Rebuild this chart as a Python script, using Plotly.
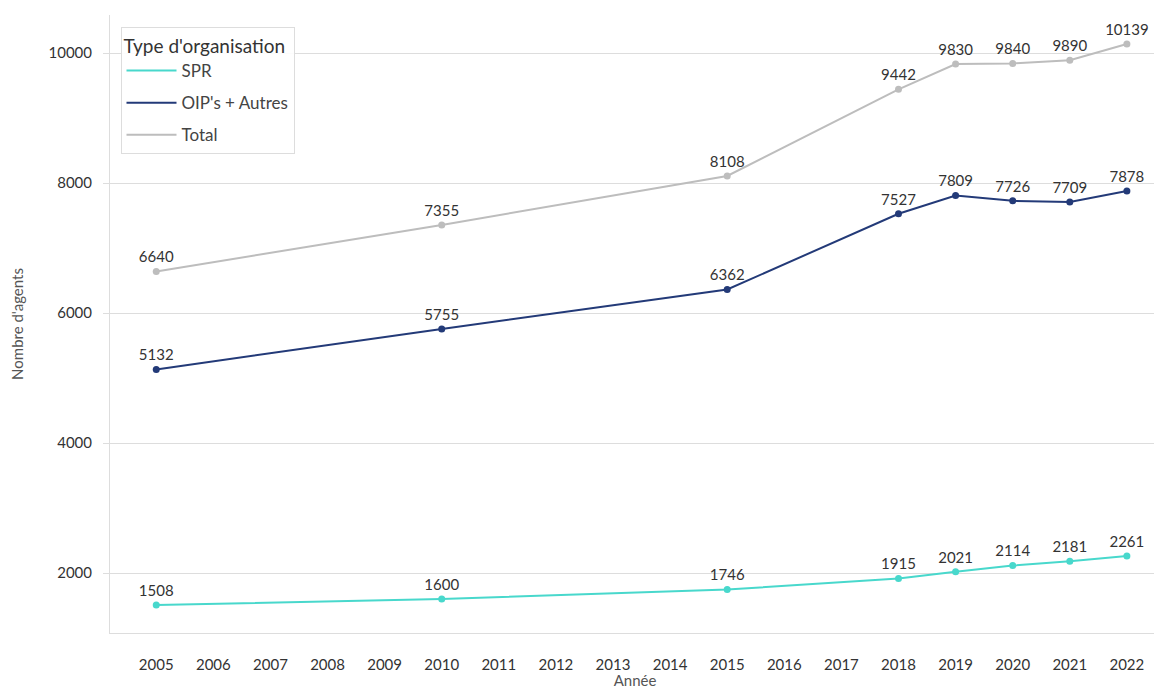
import plotly.graph_objects as go

# Data
years = [2005, 2010, 2015, 2018, 2019, 2020, 2021, 2022]
spr = [1508, 1600, 1746, 1915, 2021, 2114, 2181, 2261]
oip_autres = [5132, 5755, 6362, 7527, 7809, 7726, 7709, 7878]
total = [6640, 7355, 8108, 9442, 9830, 9840, 9890, 10139]

all_years = list(range(2005, 2023))

series = [
    ("SPR", spr, "#48d8cc"),
    ("OIP's + Autres", oip_autres, "#233a78"),
    ("Total", total, "#bdbdbd"),
]

FONT = "Lato, 'Open Sans', sans-serif"

fig = go.Figure()
for name, values, color in series:
    # points, lines and value labels
    fig.add_trace(go.Scatter(
        x=years,
        y=values,
        name=name,
        mode="lines+markers+text",
        line=dict(color=color, width=2),
        marker=dict(color=color, size=7),
        text=[str(v) for v in values],
        textposition="top center",
        textfont=dict(size=15, color="#333333", family=FONT),
        cliponaxis=False,
        showlegend=False,
    ))
    # legend entry: line only
    fig.add_trace(go.Scatter(
        x=[None], y=[None],
        name=name,
        legendgroup=name,
        mode="lines",
        line=dict(color=color, width=2),
    ))

# the page body has an 8px margin, so the figure is sized and offset to fit
fig.update_layout(
    width=1154,
    height=681,
    plot_bgcolor="white",
    paper_bgcolor="white",
    font=dict(family=FONT, color="#444444"),
    margin=dict(l=102, r=2, t=7, b=56),
    legend=dict(
        title=dict(text="Type d'organisation", font=dict(size=19, color="#333333")),
        font=dict(size=17, color="#444444"),
        x=0.01, y=0.98, xanchor="left", yanchor="top",
        bordercolor="#dddddd", borderwidth=1,
        bgcolor="rgba(255,255,255,0.9)",
        itemwidth=50,
        tracegroupgap=7,
    ),
    xaxis=dict(
        range=[2004.19, 2022.58],
        tickmode="array",
        tickvals=all_years,
        ticktext=[str(y) for y in all_years],
        tickfont=dict(size=15, color="#333333"),
        showgrid=False,
        showline=True, linecolor="#dddddd", linewidth=1,
        ticks="", ticklabelstandoff=18,
        title=dict(text="Année", font=dict(size=15, color="#555555"), standoff=4),
        zeroline=False,
    ),
    yaxis=dict(
        range=[1077, 10585],
        tickvals=[2000, 4000, 6000, 8000, 10000],
        tickformat="d",
        tickfont=dict(size=15, color="#333333"),
        showgrid=True, gridcolor="#dddddd", gridwidth=1,
        showline=True, linecolor="#dddddd", linewidth=1,
        ticks="outside", ticklen=6, tickcolor="#dddddd",
        ticklabelstandoff=8,
        title=dict(text="Nombre d'agents", font=dict(size=15, color="#555555"), standoff=22),
        zeroline=False,
    ),
)

fig.write_html("out.html")
